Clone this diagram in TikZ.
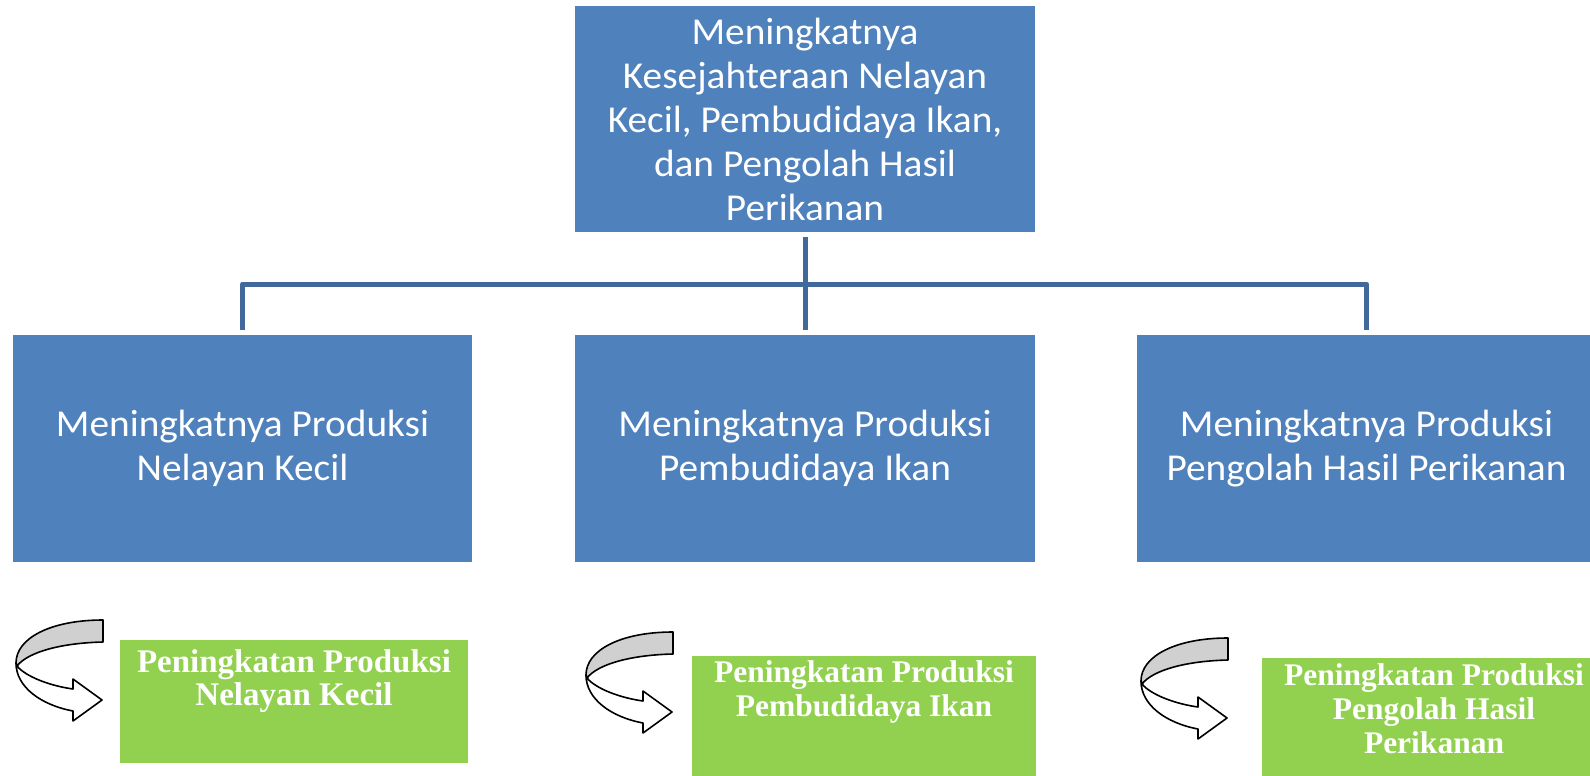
\documentclass[tikz,border=0pt]{standalone}
\usepackage{fontspec}
\setmainfont{Carlito}[FakeStretch=1.035]
\newfontfamily\greenfont{Liberation Serif}
\definecolor{boxblue}{HTML}{4F81BD}
\definecolor{linkblue}{HTML}{41699B}
\definecolor{boxgreen}{HTML}{92D050}
\definecolor{ribbongray}{HTML}{D0D0D0}
\tikzset{
  uturn/.pic={
    \filldraw[ribbon, fill=ribbongray] (87,0) .. controls (35,0) and (0,18) .. (0,43) -- (1,46)
      .. controls (12,32) and (45,23) .. (87,22) -- cycle;
    \filldraw[ribbon, fill=white] (1,46) .. controls (10,57) and (35,66) .. (57,69) -- (57,59) -- (86,80)
      -- (57,101) -- (57,91) .. controls (25,85) and (0,67) .. (0,43) -- cycle;
  }
}
\begin{document}
\begin{tikzpicture}[x=1pt,y=-1pt,
  bluebox/.style={rectangle, fill=boxblue, inner sep=0pt, text=white, align=center,
    minimum height=227pt, font=\fontsize{38}{44}\selectfont},
  greenbox/.style={rectangle, fill=boxgreen, inner sep=0pt},
  greentext/.style={anchor=north, inner sep=0pt, text=white, align=center,
    font=\greenfont\bfseries\fontsize{33}{33.5}\selectfont},
  greentextsmall/.style={greentext, font=\greenfont\bfseries\fontsize{31.5}{34}\selectfont},
  conn/.style={draw=linkblue, line width=5pt, line join=round},
  ribbon/.style={draw=black, line width=1.6pt, line join=round}]

\useasboundingbox (0,0) rectangle (1590,776);
\clip (0,0) rectangle (1590,776);
\fill[white] (0,0) rectangle (1590,776);

\node[bluebox, minimum width=460pt, minimum height=226pt] (top) at (805,119)
  {Meningkatnya\\Kesejahteraan Nelayan\\Kecil, Pembudidaya Ikan,\\dan Pengolah Hasil\\Perikanan};
\node[bluebox, minimum width=459pt] (b1) at (242.5,448.5) {Meningkatnya Produksi\\Nelayan Kecil};
\node[bluebox, minimum width=460pt] (b2) at (805,448.5) {Meningkatnya Produksi\\Pembudidaya Ikan};
\node[bluebox, minimum width=459pt] (b3) at (1366.5,448.5) {Meningkatnya Produksi\\Pengolah Hasil Perikanan};

\coordinate (hub) at (805,284);
\draw[conn] ([yshift=-5pt]top.south) -- ([yshift=5pt]b2.north);
\draw[conn] (hub) -| ([yshift=5pt]b1.north);
\draw[conn] (hub) -| ([yshift=5pt]b3.north);

\node[greenbox, minimum width=348pt, minimum height=123pt] (g1) at (294,701.5) {};
\node[greentext] (t1) at ([yshift=-9.5pt]g1.north) {Peningkatan Produksi\\Nelayan Kecil};
\node[greenbox, minimum width=344pt, minimum height=134pt] (g2) at (864,723) {};
\node[greentextsmall] (t2) at ([yshift=-4.7pt]g2.north) {Peningkatan Produksi\\Pembudidaya Ikan};
\node[greenbox, minimum width=344pt, minimum height=132pt] (g3) at (1434,724) {};
\node[greentextsmall] (t3) at ([yshift=-5.7pt]g3.north) {Peningkatan Produksi\\Pengolah Hasil\\Perikanan};

\pic at (16,620) {uturn};
\pic at (586,632) {uturn};
\pic at (1141,638) {uturn};
\end{tikzpicture}
\end{document}
